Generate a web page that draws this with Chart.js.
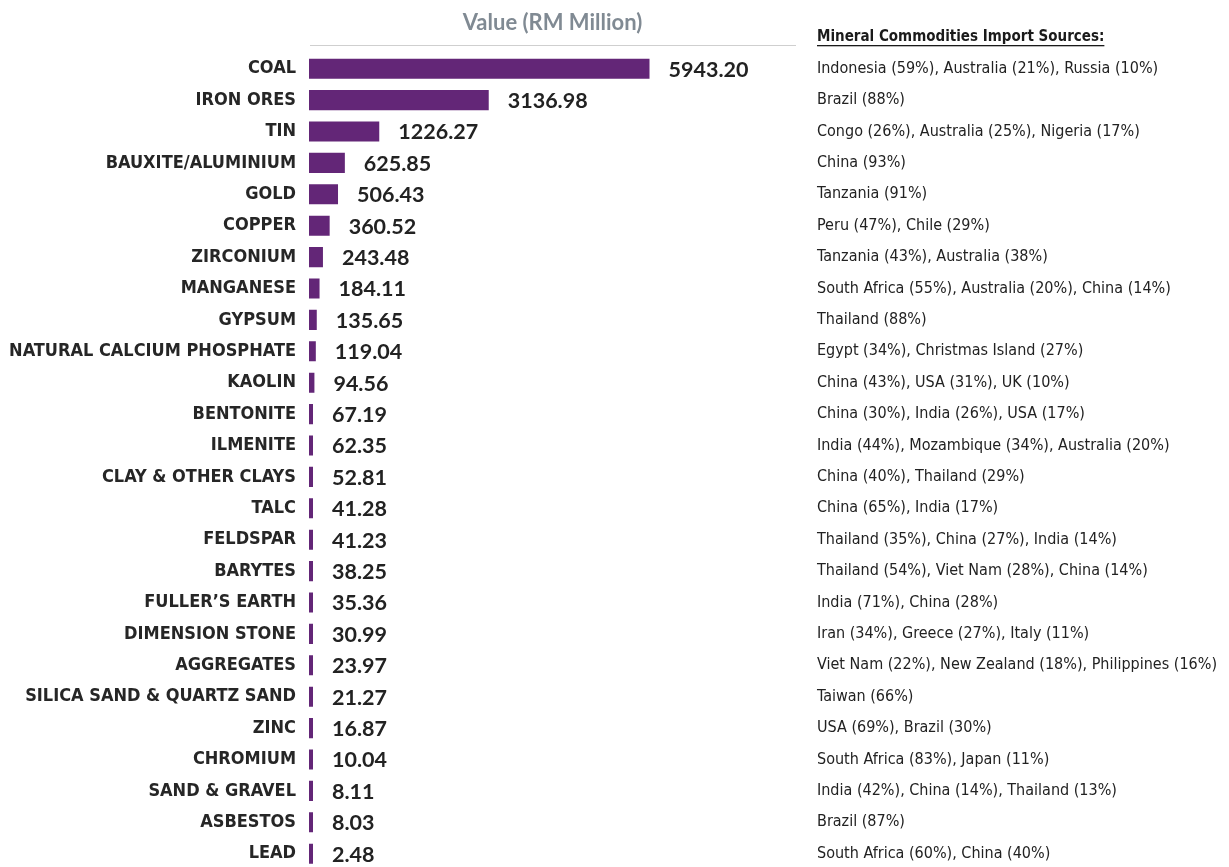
<!DOCTYPE html>
<html>
<head>
<meta charset="utf-8">
<script src="https://cdn.jsdelivr.net/npm/chart.js@4.4.0/dist/chart.umd.min.js"></script>
<style>
html, body { margin: 0; padding: 0; background: #fff; overflow: hidden; }
#wrap { width: 1229px; height: 900px; }
canvas { display: block; }
</style>
</head>
<body>
<div id="wrap"><canvas id="chart" width="1229" height="900"></canvas></div>
<script>
// minerals, import value (RM million) and main source countries
const minerals = ['COAL', 'IRON ORES', 'TIN', 'BAUXITE/ALUMINIUM', 'GOLD', 'COPPER', 'ZIRCONIUM',
    'MANGANESE', 'GYPSUM', 'NATURAL CALCIUM PHOSPHATE', 'KAOLIN', 'BENTONITE', 'ILMENITE',
    'CLAY & OTHER CLAYS', 'TALC', 'FELDSPAR', 'BARYTES', 'FULLER\u2019S EARTH', 'DIMENSION STONE',
    'AGGREGATES', 'SILICA SAND & QUARTZ SAND', 'ZINC', 'CHROMIUM', 'SAND & GRAVEL', 'ASBESTOS', 'LEAD'];
const values = [5943.20, 3136.98, 1226.27, 625.85, 506.43, 360.52, 243.48, 184.11, 135.65, 119.04,
    94.56, 67.19, 62.35, 52.81, 41.28, 41.23, 38.25, 35.36, 30.99, 23.97, 21.27, 16.87, 10.04,
    8.11, 8.03, 2.48];
const sources = [
    'Indonesia (59%), Australia (21%), Russia (10%)',
    'Brazil (88%)',
    'Congo (26%), Australia (25%), Nigeria (17%)',
    'China (93%)',
    'Tanzania (91%)',
    'Peru (47%), Chile (29%)',
    'Tanzania (43%), Australia (38%)',
    'South Africa (55%), Australia (20%), China (14%)',
    'Thailand (88%)',
    'Egypt (34%), Christmas Island (27%)',
    'China (43%), USA (31%), UK (10%)',
    'China (30%), India (26%), USA (17%)',
    'India (44%), Mozambique (34%), Australia (20%)',
    'China (40%), Thailand (29%)',
    'China (65%), India (17%)',
    'Thailand (35%), China (27%), India (14%)',
    'Thailand (54%), Viet Nam (28%), China (14%)',
    'India (71%), China (28%)',
    'Iran (34%), Greece (27%), Italy (11%)',
    'Viet Nam (22%), New Zealand (18%), Philippines (16%)',
    'Taiwan (66%)',
    'USA (69%), Brazil (30%)',
    'South Africa (83%), Japan (11%)',
    'India (42%), China (14%), Thailand (13%)',
    'Brazil (87%)',
    'South Africa (60%), China (40%)'
];
const axisTitle = 'Value (RM Million)';
const sourcesTitle = 'Mineral Commodities Import Sources:';

const narrow = '"DejaVu Sans Condensed", "Liberation Sans Narrow", sans-serif';

// value labels + header on the right + the thin line under the axis title
const extras = {
    id: 'extras',
    afterDatasetsDraw(chart) {
        const ctx = chart.ctx;
        const area = chart.chartArea;
        ctx.save();
        ctx.strokeStyle = '#cfcfcf';
        ctx.lineWidth = 1;
        ctx.beginPath();
        ctx.moveTo(area.left + 1, 45.5);
        ctx.lineTo(area.right, 45.5);
        ctx.stroke();

        ctx.font = 'bold 21.5px Lato';
        ctx.fillStyle = '#222';
        ctx.textBaseline = 'middle';
        ctx.textAlign = 'left';
        chart.getDatasetMeta(0).data.forEach(function(bar, i) {
            ctx.fillText(values[i].toFixed(2), bar.x + 19, bar.y + 1);
        });

        ctx.font = 'bold 15px ' + narrow;
        ctx.fillStyle = '#1a1a1a';
        const hx = 817, hy = 37;
        ctx.fillText(sourcesTitle, hx, hy);
        const w = ctx.measureText(sourcesTitle).width;
        ctx.fillRect(hx, hy + 8, w, 1.3);
        ctx.restore();
    }
};

new Chart(document.getElementById('chart'), {
    type: 'bar',
    data: {
        labels: minerals,
        datasets: [{
            data: values,
            backgroundColor: '#632677',
            barPercentage: 0.64,
            categoryPercentage: 1,
            minBarLength: 4
        }]
    },
    options: {
        indexAxis: 'y',
        responsive: false,
        animation: false,
        layout: { padding: 0 },
        plugins: { legend: { display: false }, tooltip: { enabled: false } },
        scales: {
            x: {
                position: 'top',
                min: 0,
                max: 8500,
                grid: { display: false, drawTicks: false },
                border: { display: false },
                ticks: { display: false },
                title: {
                    display: true,
                    text: axisTitle,
                    color: '#808a93',
                    font: { family: 'Lato', size: 22, weight: 'bold' },
                    padding: { top: 10, bottom: 0 }
                },
                afterFit: function(s) { s.height = 53; }
            },
            y: {
                grid: { display: false, drawTicks: false },
                border: { display: false },
                ticks: {
                    color: '#262626',
                    font: { family: narrow, size: 18, weight: 'bold' },
                    padding: 13
                },
                afterFit: function(s) { s.width = 309; }
            },
            y2: {
                type: 'category',
                axis: 'y',
                position: 'right',
                labels: sources,
                offset: true,
                grid: { display: false, drawTicks: false },
                border: { display: false },
                ticks: {
                    color: '#222',
                    font: { family: narrow, size: 16 },
                    padding: 21
                },
                afterFit: function(s) { s.width = 1229 - 796; }
            }
        }
    },
    plugins: [extras]
});
</script>
</body>
</html>
